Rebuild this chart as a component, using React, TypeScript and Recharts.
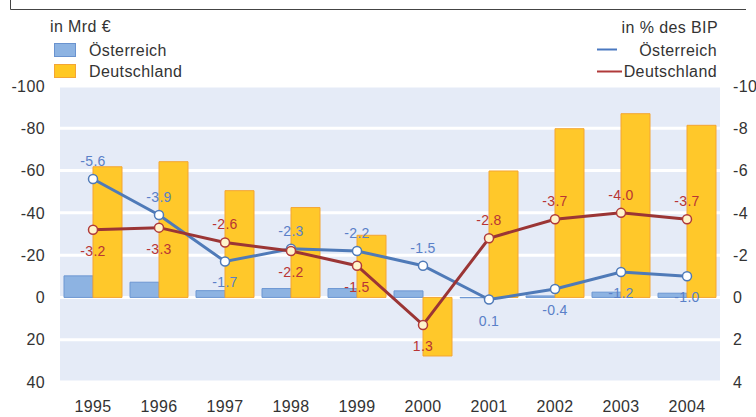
import { ComposedChart, Bar, Line, XAxis, YAxis, CartesianGrid, LabelList } from "recharts";

const years = ["1995", "1996", "1997", "1998", "1999", "2000", "2001", "2002", "2003", "2004"];
// Finanzierungssaldo in Mrd €
const austriaBn = [-10.2, -7.2, -3.2, -4.2, -4.2, -3.1, 0.2, -0.7, -2.5, -2.0];
const germanyBn = [-61.8, -64.2, -50.5, -42.5, -29.4, 27.7, -59.8, -79.8, -86.9, -81.4];
// in % des BIP
const austriaPct = [-5.6, -3.9, -1.7, -2.3, -2.2, -1.5, 0.1, -0.4, -1.2, -1.0];
const germanyPct = [-3.2, -3.3, -2.6, -2.2, -1.5, 1.3, -2.8, -3.7, -4.0, -3.7];

const leftTicks = [-100, -80, -60, -40, -20, 0, 20, 40];
const rightTicks = [-10, -8, -6, -4, -2, 0, 2, 4];

const data = years.map((year, i) => ({
  year,
  atBn: austriaBn[i],
  deBn: germanyBn[i],
  atPct: austriaPct[i],
  dePct: germanyPct[i],
}));

const FONT = "'Liberation Sans', Arial, sans-serif";
const tickStyle = { fontSize: 16, fill: "#333", fontFamily: FONT, letterSpacing: 0.4 };

const AT_LINE = "#4f7ab8";
const DE_LINE = "#9b3535";

// label above the point when this series lies higher than the other one
const pointLabel = (own: number[], other: number[], color: string) => (props: any) => {
  const { x, y, index, value } = props;
  const above = own[index] < other[index];
  return (
    <text
      x={x}
      y={above ? y - 13 : y + 26}
      textAnchor="middle"
      fill={color}
      fontSize={14}
      fontFamily={FONT}
      letterSpacing={0.3}
    >
      {Number(value).toFixed(1)}
    </text>
  );
};

function Legends() {
  const text = { fontSize: 16, fill: "#333", fontFamily: FONT, letterSpacing: 0.4 };
  return (
    <svg width={756} height={90} style={{ position: "absolute", left: 0, top: 0, pointerEvents: "none" }}>
      <path d="M10.5 0 V9.5 H746" fill="none" stroke="#444" strokeWidth={1} />
      <text x={50} y={26} dominantBaseline="central" {...text}>in Mrd €</text>
      <rect x={54.5} y={43.5} width={21} height={13} fill="#8db3e2" stroke="#6a93cf" />
      <text x={89} y={50} dominantBaseline="central" {...text}>Österreich</text>
      <rect x={54.5} y={64.5} width={21} height={13} fill="#ffc823" stroke="#f4a534" />
      <text x={89} y={71} dominantBaseline="central" {...text}>Deutschland</text>

      <text x={718} y={27} textAnchor="end" dominantBaseline="central" {...text}>in % des BIP</text>
      <line x1={597} x2={617} y1={49.5} y2={49.5} stroke="#4a78c0" strokeWidth={2} />
      <text x={717} y={50} textAnchor="end" dominantBaseline="central" {...text}>Österreich</text>
      <line x1={597} x2={622} y1={71.5} y2={71.5} stroke="#b03a3a" strokeWidth={2} />
      <text x={717} y={71} textAnchor="end" dominantBaseline="central" {...text}>Deutschland</text>
    </svg>
  );
}

export default function App() {
  return (
    <div style={{ position: "absolute", left: 0, top: 0, width: 756, height: 417, background: "#fff" }}>
      <ComposedChart
        width={756}
        height={417}
        data={data}
        margin={{ top: 86, right: 0, bottom: 0, left: 10 }}
        barGap={0}
        barSize={29}
      >
        <CartesianGrid vertical={false} stroke="#fff" strokeWidth={3} fill="#e5ebf7" yAxisId="left" />
        <XAxis
          dataKey="year"
          tickLine={false}
          axisLine={false}
          tickSize={0}
          tickMargin={19}
          height={35}
          tick={tickStyle}
          interval={0}
        />
        <YAxis
          yAxisId="left"
          orientation="left"
          reversed
          domain={[-100, 40]}
          ticks={leftTicks}
          width={50}
          tickLine={false}
          axisLine={false}
          tickSize={0}
          tickMargin={15}
          tick={tickStyle}
        />
        <YAxis
          yAxisId="right"
          orientation="right"
          reversed
          domain={[-10, 4]}
          ticks={rightTicks}
          width={36}
          tickLine={false}
          axisLine={false}
          tickSize={0}
          tickMargin={13}
          tick={{ ...tickStyle, textAnchor: "start" }}
        />
        <Bar yAxisId="left" dataKey="atBn" fill="#8db3e2" stroke="#6d97d2" strokeWidth={1} isAnimationActive={false} />
        <Bar yAxisId="left" dataKey="deBn" fill="#ffc82a" stroke="#f4a532" strokeWidth={1} isAnimationActive={false} />
        <Line
          yAxisId="right"
          dataKey="atPct"
          stroke={AT_LINE}
          strokeWidth={3}
          dot={{ r: 4.5, fill: "#fff", stroke: AT_LINE, strokeWidth: 1.5 }}
          activeDot={false}
          isAnimationActive={false}
        >
          <LabelList dataKey="atPct" content={pointLabel(austriaPct, germanyPct, "#5a80c8")} />
        </Line>
        <Line
          yAxisId="right"
          dataKey="dePct"
          stroke={DE_LINE}
          strokeWidth={3}
          dot={{ r: 4.5, fill: "#fff4cc", stroke: "#b03a3a", strokeWidth: 1.5 }}
          activeDot={false}
          isAnimationActive={false}
        >
          <LabelList dataKey="dePct" content={pointLabel(germanyPct, austriaPct, "#b83535")} />
        </Line>
      </ComposedChart>
      <Legends />
    </div>
  );
}
